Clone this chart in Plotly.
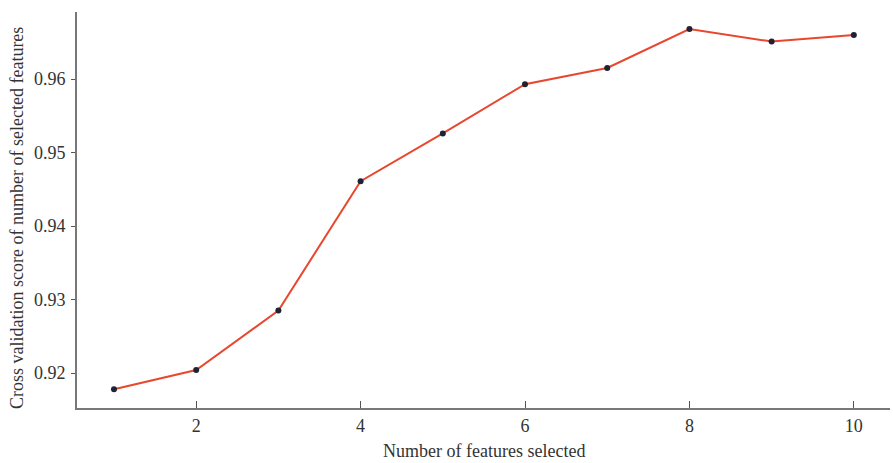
import plotly.graph_objects as go

n_features = [1, 2, 3, 4, 5, 6, 7, 8, 9, 10]
cv_scores = [0.9178, 0.9204, 0.9285, 0.9461, 0.9526, 0.9593, 0.9615, 0.9668, 0.9651, 0.9660]
x_ticks = [2, 4, 6, 8, 10]
y_ticks = [0.92, 0.93, 0.94, 0.95, 0.96]
y_tick_labels = ["0.92", "0.93", "0.94", "0.95", "0.96"]

fig = go.Figure()
fig.add_trace(go.Scatter(
    x=n_features, y=cv_scores, mode="lines+markers",
    line=dict(color="#e8472e", width=2),
    marker=dict(color="#1e2233", size=6),
    showlegend=False,
))

font_family = "Liberation Serif, Times New Roman, serif"
fig.update_layout(
    width=893, height=463,
    margin=dict(l=77, r=3, t=12, b=55),
    paper_bgcolor="white", plot_bgcolor="white",
    font=dict(family=font_family, color="#333333"),
    xaxis=dict(
        range=[0.55, 10.44], tickvals=x_ticks, ticks="inside", ticklen=7,
        tickcolor="#555", showline=True, linecolor="#777", linewidth=2,
        showgrid=False, zeroline=False, tickfont=dict(size=18, color="#333"),
        automargin=False,
    ),
    yaxis=dict(
        range=[0.91524, 0.96912], tickvals=y_ticks, ticktext=y_tick_labels,
        ticks="outside", ticklen=4, tickcolor="#555",
        showline=True, linecolor="#777", linewidth=2,
        showgrid=False, zeroline=False, tickfont=dict(size=18, color="#333"),
        automargin=False, ticklabelstandoff=2,
    ),
    annotations=[
        dict(text="Number of features selected", xref="paper", yref="paper",
             x=0.5, y=0, yshift=-43, xanchor="center", yanchor="middle",
             showarrow=False, font=dict(size=18, color="#333")),
        dict(text="Cross validation score of number of selected features",
             xref="paper", yref="paper", x=0, y=0.5, xshift=-60, yshift=-8,
             xanchor="center", yanchor="middle", textangle=-90,
             showarrow=False, font=dict(size=18, color="#333")),
    ],
)
fig.write_html("out.html", config={"displayModeBar": False},
               post_script="document.body.style.margin='0';document.body.style.overflow='hidden';")
